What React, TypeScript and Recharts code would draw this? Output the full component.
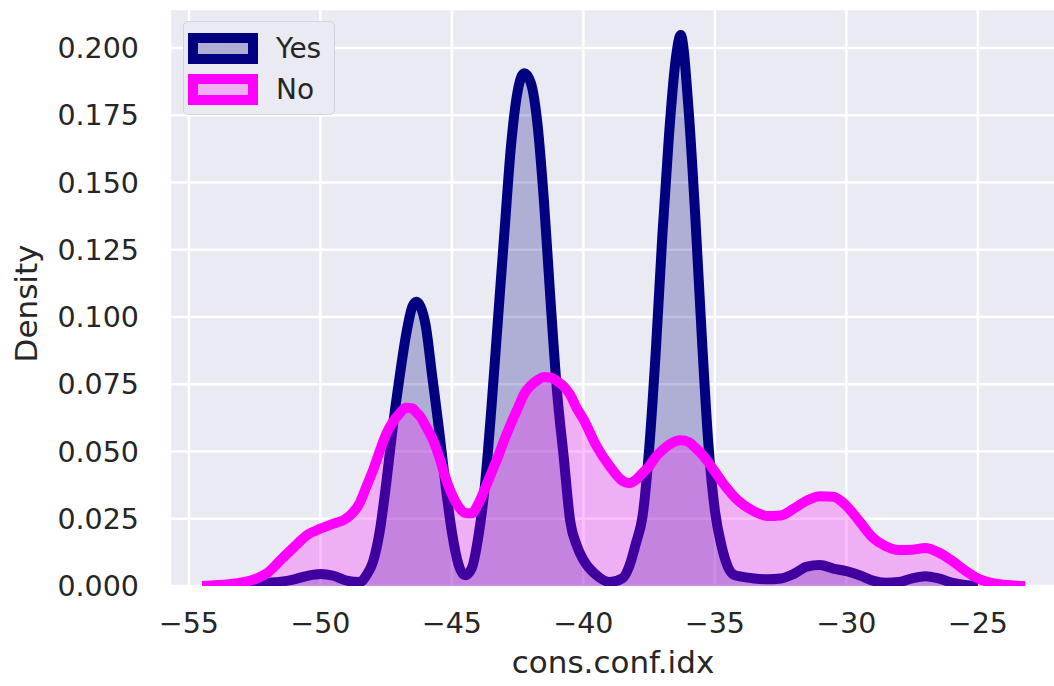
import React from "react";
import {
  ComposedChart,
  Area,
  XAxis,
  YAxis,
  CartesianGrid,
  Legend,
} from "recharts";

// cons.conf.idx grid (denser around the narrow "Yes" peaks)
const xs = [
  -54.5, -54, -53.5, -53, -52.5, -52, -51.5, -51, -50.5, -50, -49.5, -49,
  -48.5, -48.25, -48, -47.75, -47.5, -47.25, -47, -46.75, -46.5, -46.35,
  -46.2, -46, -45.75, -45.5, -45.25, -45, -44.75, -44.5, -44.25, -44, -43.75,
  -43.5, -43.25, -43, -42.75, -42.5, -42.25, -42, -41.75, -41.5, -41.25, -41,
  -40.75, -40.5, -40.25, -40, -39.5, -39, -38.5, -38.25, -38, -37.75, -37.5,
  -37.25, -37, -36.75, -36.5, -36.3, -36, -35.75, -35.5, -35.25, -35, -34.75,
  -34.5, -34.25, -34, -33.5, -33, -32.5, -32, -31.5, -31, -30.5, -30, -29.5,
  -29, -28.5, -28, -27.5, -27, -26.5, -26, -25.5, -25, -24.5, -24, -23.5,
  -23.2,
];

// density of the "Yes" group
const yesDensity: (number | null)[] = [
  0, 0.0001, 0.0003, 0.0006, 0.0009, 0.0012, 0.0016, 0.0025, 0.0038, 0.0045,
  0.0038, 0.002, 0.0015, 0.004, 0.009, 0.02, 0.038, 0.059, 0.077, 0.093,
  0.104, 0.1057, 0.104, 0.097, 0.078, 0.059, 0.038, 0.02, 0.008, 0.004,
  0.0065, 0.018, 0.037, 0.066, 0.099, 0.132, 0.164, 0.184, 0.1906, 0.187,
  0.172, 0.143, 0.106, 0.072, 0.048, 0.024, 0.015, 0.0097, 0.004, 0.0015,
  0.003, 0.0075, 0.016, 0.026, 0.051, 0.087, 0.13, 0.167, 0.195, 0.2048,
  0.177, 0.138, 0.093, 0.053, 0.028, 0.015, 0.007, 0.004, 0.0035, 0.0028,
  0.0025, 0.0028, 0.0045, 0.0072, 0.0078, 0.0065, 0.0055, 0.004, 0.002,
  0.0012, 0.0015, 0.0028, 0.0036, 0.0028, 0.0013, 0.0004, 0.0001, null, null,
  null, null,
];

// density of the "No" group
const noDensity = [
  0, 0.0003, 0.0007, 0.0013, 0.0025, 0.005, 0.0098, 0.0145, 0.019, 0.0213,
  0.0232, 0.0252, 0.031, 0.037, 0.043, 0.05, 0.0565, 0.061, 0.064, 0.0663,
  0.066, 0.0645, 0.063, 0.0595, 0.055, 0.0485, 0.0405, 0.034, 0.0295, 0.0272,
  0.027, 0.0305, 0.036, 0.042, 0.048, 0.0545, 0.0605, 0.066, 0.0715, 0.0745,
  0.0765, 0.0777, 0.0775, 0.0762, 0.0742, 0.071, 0.066, 0.062, 0.052, 0.0445,
  0.039, 0.0383, 0.0395, 0.042, 0.0445, 0.048, 0.0505, 0.0525, 0.0538,
  0.0542, 0.0535, 0.0515, 0.049, 0.046, 0.0425, 0.039, 0.0358, 0.033,
  0.0308, 0.0277, 0.026, 0.0262, 0.0288, 0.0318, 0.0334, 0.0332, 0.0298,
  0.024, 0.018, 0.0148, 0.0134, 0.0135, 0.0141, 0.0125, 0.0095, 0.0058,
  0.0028, 0.0012, 0.0005, 0.0001, 0,
];

const xTicks = [-55, -50, -45, -40, -35, -30, -25];
const yTicks = [0, 0.025, 0.05, 0.075, 0.1, 0.125, 0.15, 0.175, 0.2];

const legendOrder = ["Yes", "No"];
const seriesColors: Record<string, { line: string; patch: string }> = {
  Yes: { line: "#000080", patch: "#AFAFD5" },
  No: { line: "#FF00FF", patch: "#EFAFF5" },
};

const chartData = xs.map((x, i) => ({
  x,
  Yes: yesDensity[i],
  No: noDensity[i],
}));

const FONT = "'DejaVu Sans', sans-serif";
const TEXT = "#262626";

const minus = (v: number) => (v < 0 ? "\u2212" + Math.abs(v) : String(v));

const LegendBox = (props: any) => {
  const items = [...(props.payload || [])].sort(
    (a: any, b: any) => legendOrder.indexOf(a.value) - legendOrder.indexOf(b.value)
  );
  return (
    <div
      style={{
        width: 152,
        height: 94,
        boxSizing: "border-box",
        background: "#EAEAF2",
        border: "1.5px solid #D4D4DC",
        borderRadius: 5,
        padding: "6px 0 0 4px",
        fontFamily: FONT,
        fontSize: 28,
        color: TEXT,
      }}
    >
      {items.map((entry: any) => {
        const c = seriesColors[entry.value] || { line: "#000", patch: "#fff" };
        return (
          <div
            key={entry.value}
            style={{ display: "flex", alignItems: "center", height: 41 }}
          >
            <div
              style={{
                width: 70,
                height: 31,
                boxSizing: "border-box",
                border: `10px solid ${c.line}`,
                background: c.patch,
              }}
            />
            <span style={{ marginLeft: 18, lineHeight: "30px" }}>
              {entry.value}
            </span>
          </div>
        );
      })}
    </div>
  );
};

const YLabel = (props: any) => {
  const vb = props.viewBox || {};
  const cx = 37;
  const cy = vb.y + vb.height / 2 + 6;
  return (
    <text
      x={cx}
      y={cy}
      transform={`rotate(-90 ${cx} ${cy})`}
      textAnchor="middle"
      fontFamily={FONT}
      fontSize={31}
      fill={TEXT}
    >
      Density
    </text>
  );
};

const XLabel = (props: any) => {
  const vb = props.viewBox || {};
  return (
    <text
      x={vb.x + vb.width / 2}
      y={673}
      textAnchor="middle"
      fontFamily={FONT}
      fontSize={31}
      fill={TEXT}
    >
      cons.conf.idx
    </text>
  );
};

export default function App() {
  return (
    <div
      style={{
        position: "absolute",
        left: 0,
        top: 0,
        width: 1054,
        height: 686,
        overflow: "hidden",
        background: "#fff",
      }}
    >
      <ComposedChart
        width={1056}
        height={686}
        data={chartData}
        margin={{ top: 9, right: 0, bottom: 0, left: 0 }}
      >
        <CartesianGrid
          fill="#EAEAF2"
          fillOpacity={1}
          stroke="#FFFFFF"
          strokeWidth={2.5}
        />
        <XAxis
          dataKey="x"
          type="number"
          domain={[-55.72, -22.03]}
          ticks={xTicks}
          allowDataOverflow
          height={100}
          axisLine={false}
          tickLine={false}
          tickSize={0}
          tickMargin={27}
          tickFormatter={minus}
          tick={{ fontFamily: FONT, fontSize: 28.5, fill: TEXT }}
          label={<XLabel />}
        />
        <YAxis
          type="number"
          domain={[0, 0.2145]}
          ticks={yTicks}
          allowDataOverflow
          width={170}
          axisLine={false}
          tickLine={false}
          tickSize={0}
          tickMargin={31}
          tickFormatter={(v: number) => v.toFixed(3)}
          tick={{ fontFamily: FONT, fontSize: 28.5, fill: TEXT }}
          label={<YLabel />}
        />
        <Legend
          layout="vertical"
          align="center"
          verticalAlign="middle"
          wrapperStyle={{ top: 21, left: 183, width: 152, height: 94 }}
          content={<LegendBox />}
        />
        <Area
          type="monotone"
          dataKey="Yes"
          name="Yes"
          stroke={seriesColors.Yes.line}
          strokeWidth={10}
          strokeLinejoin="round"
          fill={seriesColors.Yes.line}
          fillOpacity={0.25}
          dot={false}
          activeDot={false}
          isAnimationActive={false}
        />
        <Area
          type="monotone"
          dataKey="No"
          name="No"
          stroke={seriesColors.No.line}
          strokeWidth={10}
          strokeLinejoin="round"
          fill={seriesColors.No.line}
          fillOpacity={0.25}
          dot={false}
          activeDot={false}
          isAnimationActive={false}
        />
      </ComposedChart>
    </div>
  );
}
